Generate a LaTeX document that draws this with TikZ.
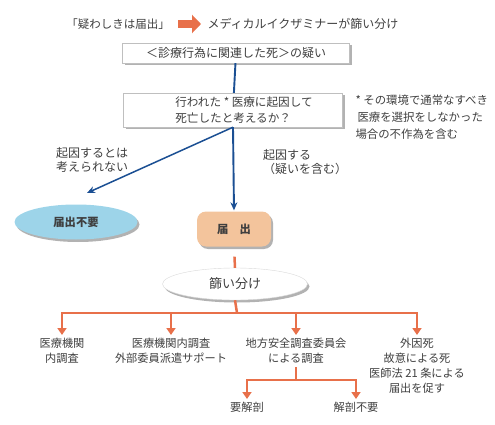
\documentclass[tikz,border=0pt]{standalone}
\usepackage{fontspec}
\setmainfont{Noto Sans CJK JP}
\usetikzlibrary{shapes.geometric, arrows.meta, shadows}

\definecolor{flowblue}{HTML}{1B4F93}
\definecolor{flowred}{HTML}{E8704A}
\definecolor{skyfill}{HTML}{9DD4E9}
\definecolor{peachfill}{HTML}{F3C49C}
\definecolor{inkgray}{HTML}{3F3F3F}

\tikzset{
  softshadow/.style={drop shadow={shadow xshift=2pt, shadow yshift=-2.5pt, opacity=0.5, fill=black!60}},
  greybox/.style={draw=black!25, fill=white, softshadow},
  blueline/.style={flowblue, line width=1.9pt},
  redline/.style={flowred, line width=2.5pt},
  label/.style={align=center, font=\fontsize{11.2}{14.8}\selectfont},
}

\begin{document}
\begin{tikzpicture}[x=1pt, y=-1pt, >={Stealth[length=8pt, width=7pt]},
    font=\fontsize{12}{16.5}\selectfont, text=inkgray]
  \useasboundingbox (0,0) rectangle (495,425);

  % heading
  \node [font=\fontsize{11.5}{14}\selectfont] (rule) at (118,24) {「疑わしきは届出」};
  \node [anchor=west] (examiner) at (204,24) {メディカルイクザミナーが篩い分け};
  \draw [flowred, line width=8pt, -{Triangle[length=9pt, width=18pt]}, shorten <=5pt, shorten >=3pt]
    (rule.east) -- (examiner.west);

  % question boxes
  \node [greybox, minimum width=227, minimum height=20, inner sep=1pt] (suspect) at (236,53)
    {＜診療行為に関連した死＞の疑い};
  \node [greybox, minimum width=219, minimum height=34, inner sep=1pt, align=left,
      font=\fontsize{11.6}{16.5}\selectfont] (question) at (233,110)
    {\hspace{22pt}行われた * 医療に起因して\\\hspace{22pt}死亡したと考えるか？};
  \node [anchor=north west, align=left, font=\fontsize{11.4}{17}\selectfont] (note) at (352,91)
    {* その環境で通常なすべき\\\hspace{2pt}医療を選択をしなかった\\場合の不作為を含む};

  % outcomes
  \node [ellipse, fill=skyfill, minimum width=123, minimum height=35, softshadow, font=\fontsize{11.3}{13}\selectfont\bfseries]
    (noreport) at (76,222) {届出不要};
  \node [rounded corners=9pt, fill=peachfill, minimum width=74, minimum height=35, softshadow, font=\fontsize{11.3}{13}\selectfont\bfseries]
    (report) at (234,229) {届　出};
  \node [ellipse, greybox, draw=black!15, minimum width=145, minimum height=32, font=\fontsize{13}{15}\selectfont]
    (sift) at (235,284) {篩い分け};
  \coordinate (nogo) at (87,193);

  \node [align=center, font=\fontsize{12}{14.5}\selectfont] (notcaused) at (92,160) {起因するとは\\考えられない};
  \node [align=left, font=\fontsize{12}{14.5}\selectfont] (caused) at (305,162) {起因する\\（疑いを含む）};

  \draw [blueline] (suspect) -- (question);
  \draw [blueline, line width=1.5pt, ->] (question.south) -- (nogo);
  \draw [blueline, ->, shorten >=1pt] (question.south) -- (report.north);
  \draw [redline, shorten <=10pt] (report.south) -- (sift.north);

  % screening branches
  \coordinate (bar) at (237,313);
  \node [label, anchor=north] (inhouse) at (62,335) {医療機関\\内調査};
  \node [label, anchor=north] (support) at (171,335) {医療機関内調査\\外部委員派遣サポート};
  \node [label, anchor=north] (regional) at (296,335) {地方安全調査委員会\\による調査};
  \node [label, anchor=north] (external) at (417,335) {外因死\\故意による死\\医師法 21 条による\\届出を促す};
  \node [label, anchor=north] (autopsy) at (247,399) {要解剖};
  \node [label, anchor=north] (noautopsy) at (356,399) {解剖不要};

  \draw [redline] (sift.south) -- (bar);
  \draw [redline, -{Triangle[length=7pt, width=9pt]}] (bar) -| (inhouse.north);
  \draw [redline, -{Triangle[length=7pt, width=9pt]}] (bar) -| (support.north);
  \draw [redline, -{Triangle[length=7pt, width=9pt]}] (bar) -| (regional.north);
  \draw [redline, -{Triangle[length=7pt, width=9pt]}] (bar) -| (external.north);

  \coordinate (split) at (296,380);
  \draw [redline] (regional.south) -- (split);
  \draw [redline, -{Triangle[length=7pt, width=9pt]}] (split) -| (autopsy.north);
  \draw [redline, -{Triangle[length=7pt, width=9pt]}] (split) -| (noautopsy.north);
\end{tikzpicture}
\end{document}
